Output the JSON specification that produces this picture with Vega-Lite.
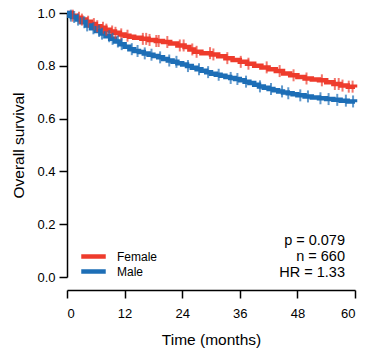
{
  "$schema": "https://vega.github.io/schema/vega-lite/v6.json",
  "width": 288,
  "height": 264,
  "autosize": "none",
  "padding": {"left": 67, "top": 13, "right": 12, "bottom": 81},
  "datasets": {
    "km": [
      {"group":"Female","time":0,"surv":1.0},{"group":"Female","time":1,"surv":0.99},{"group":"Female","time":2,"surv":0.982},{"group":"Female","time":3,"surv":0.975},{"group":"Female","time":4,"surv":0.967},{"group":"Female","time":5,"surv":0.958},{"group":"Female","time":6,"surv":0.95},{"group":"Female","time":7,"surv":0.944},{"group":"Female","time":8,"surv":0.937},{"group":"Female","time":9,"surv":0.93},{"group":"Female","time":10,"surv":0.925},{"group":"Female","time":11,"surv":0.919},{"group":"Female","time":12,"surv":0.914},{"group":"Female","time":13,"surv":0.91},{"group":"Female","time":14,"surv":0.906},{"group":"Female","time":15.5,"surv":0.902},{"group":"Female","time":17,"surv":0.898},{"group":"Female","time":18.5,"surv":0.894},{"group":"Female","time":20,"surv":0.89},{"group":"Female","time":21.5,"surv":0.884},{"group":"Female","time":23,"surv":0.877},{"group":"Female","time":24.5,"surv":0.871},{"group":"Female","time":25.5,"surv":0.862},{"group":"Female","time":26.5,"surv":0.853},{"group":"Female","time":28,"surv":0.848},{"group":"Female","time":30,"surv":0.843},{"group":"Female","time":31.5,"surv":0.836},{"group":"Female","time":33,"surv":0.829},{"group":"Female","time":34.5,"surv":0.822},{"group":"Female","time":36,"surv":0.815},{"group":"Female","time":37.5,"surv":0.808},{"group":"Female","time":39,"surv":0.8},{"group":"Female","time":40.5,"surv":0.794},{"group":"Female","time":42,"surv":0.787},{"group":"Female","time":43.5,"surv":0.78},{"group":"Female","time":45,"surv":0.771},{"group":"Female","time":46.5,"surv":0.764},{"group":"Female","time":48,"surv":0.758},{"group":"Female","time":49.5,"surv":0.752},{"group":"Female","time":51,"surv":0.748},{"group":"Female","time":52.5,"surv":0.745},{"group":"Female","time":54,"surv":0.738},{"group":"Female","time":55.5,"surv":0.731},{"group":"Female","time":57,"surv":0.725},{"group":"Female","time":58.5,"surv":0.721},{"group":"Female","time":60,"surv":0.718},
      {"group":"Male","time":0,"surv":1.0},{"group":"Male","time":0.5,"surv":0.99},{"group":"Male","time":1,"surv":0.985},{"group":"Male","time":2,"surv":0.975},{"group":"Male","time":3,"surv":0.965},{"group":"Male","time":4,"surv":0.953},{"group":"Male","time":5,"surv":0.942},{"group":"Male","time":6,"surv":0.932},{"group":"Male","time":7,"surv":0.922},{"group":"Male","time":8,"surv":0.912},{"group":"Male","time":9,"surv":0.902},{"group":"Male","time":10,"surv":0.892},{"group":"Male","time":11,"surv":0.882},{"group":"Male","time":12,"surv":0.872},{"group":"Male","time":13,"surv":0.863},{"group":"Male","time":14,"surv":0.856},{"group":"Male","time":15,"surv":0.852},{"group":"Male","time":16,"surv":0.847},{"group":"Male","time":17,"surv":0.842},{"group":"Male","time":18,"surv":0.837},{"group":"Male","time":19,"surv":0.832},{"group":"Male","time":20,"surv":0.826},{"group":"Male","time":21,"surv":0.82},{"group":"Male","time":22,"surv":0.815},{"group":"Male","time":23,"surv":0.81},{"group":"Male","time":24,"surv":0.805},{"group":"Male","time":25,"surv":0.799},{"group":"Male","time":26,"surv":0.793},{"group":"Male","time":27,"surv":0.787},{"group":"Male","time":28,"surv":0.781},{"group":"Male","time":29,"surv":0.776},{"group":"Male","time":30,"surv":0.77},{"group":"Male","time":31,"surv":0.766},{"group":"Male","time":32,"surv":0.762},{"group":"Male","time":33,"surv":0.758},{"group":"Male","time":34,"surv":0.754},{"group":"Male","time":35,"surv":0.75},{"group":"Male","time":36,"surv":0.745},{"group":"Male","time":37,"surv":0.74},{"group":"Male","time":38,"surv":0.735},{"group":"Male","time":39,"surv":0.728},{"group":"Male","time":40,"surv":0.722},{"group":"Male","time":41,"surv":0.717},{"group":"Male","time":42,"surv":0.712},{"group":"Male","time":43,"surv":0.707},{"group":"Male","time":44,"surv":0.703},{"group":"Male","time":45,"surv":0.699},{"group":"Male","time":46,"surv":0.696},{"group":"Male","time":47,"surv":0.692},{"group":"Male","time":48,"surv":0.688},{"group":"Male","time":49.5,"surv":0.684},{"group":"Male","time":51,"surv":0.68},{"group":"Male","time":52.5,"surv":0.677},{"group":"Male","time":54,"surv":0.674},{"group":"Male","time":55.5,"surv":0.671},{"group":"Male","time":57,"surv":0.668},{"group":"Male","time":58.5,"surv":0.665},{"group":"Male","time":60,"surv":0.662}
    ],
    "cens": [
      {"group":"Female","time":1.2,"surv":0.99},{"group":"Female","time":2.5,"surv":0.982},{"group":"Female","time":3.1,"surv":0.975},{"group":"Female","time":4.4,"surv":0.967},{"group":"Female","time":5.6,"surv":0.958},{"group":"Female","time":6.3,"surv":0.95},{"group":"Female","time":7.5,"surv":0.944},{"group":"Female","time":8.2,"surv":0.937},{"group":"Female","time":9.4,"surv":0.93},{"group":"Female","time":10.1,"surv":0.925},{"group":"Female","time":11.3,"surv":0.919},{"group":"Female","time":12.6,"surv":0.914},{"group":"Female","time":15.8,"surv":0.902},{"group":"Female","time":16.5,"surv":0.902},{"group":"Female","time":17.2,"surv":0.898},{"group":"Female","time":18.6,"surv":0.894},{"group":"Female","time":19.1,"surv":0.894},{"group":"Female","time":20.9,"surv":0.89},{"group":"Female","time":23.5,"surv":0.877},{"group":"Female","time":24.3,"surv":0.877},{"group":"Female","time":26.1,"surv":0.862},{"group":"Female","time":27.0,"surv":0.853},{"group":"Female","time":29.8,"surv":0.848},{"group":"Female","time":30.5,"surv":0.843},{"group":"Female","time":33.4,"surv":0.829},{"group":"Female","time":36.2,"surv":0.815},{"group":"Female","time":37.8,"surv":0.808},{"group":"Female","time":41.6,"surv":0.794},{"group":"Female","time":44.3,"surv":0.78},{"group":"Female","time":47.2,"surv":0.764},{"group":"Female","time":49.9,"surv":0.752},{"group":"Female","time":53.1,"surv":0.745},{"group":"Female","time":55.8,"surv":0.731},{"group":"Female","time":56.6,"surv":0.731},{"group":"Female","time":57.4,"surv":0.725},{"group":"Female","time":58.7,"surv":0.721},{"group":"Female","time":59.5,"surv":0.721},
      {"group":"Male","time":0.8,"surv":0.99},{"group":"Male","time":1.5,"surv":0.985},{"group":"Male","time":2.3,"surv":0.975},{"group":"Male","time":3.6,"surv":0.965},{"group":"Male","time":4.2,"surv":0.953},{"group":"Male","time":5.5,"surv":0.942},{"group":"Male","time":6.7,"surv":0.932},{"group":"Male","time":7.3,"surv":0.922},{"group":"Male","time":8.8,"surv":0.912},{"group":"Male","time":9.5,"surv":0.902},{"group":"Male","time":10.6,"surv":0.892},{"group":"Male","time":11.4,"surv":0.882},{"group":"Male","time":13.5,"surv":0.863},{"group":"Male","time":14.7,"surv":0.856},{"group":"Male","time":16.2,"surv":0.847},{"group":"Male","time":17.6,"surv":0.842},{"group":"Male","time":19.4,"surv":0.832},{"group":"Male","time":21.3,"surv":0.82},{"group":"Male","time":22.8,"surv":0.815},{"group":"Male","time":25.2,"surv":0.799},{"group":"Male","time":27.5,"surv":0.787},{"group":"Male","time":29.4,"surv":0.776},{"group":"Male","time":31.6,"surv":0.766},{"group":"Male","time":34.1,"surv":0.754},{"group":"Male","time":35.5,"surv":0.75},{"group":"Male","time":37.3,"surv":0.74},{"group":"Male","time":40.2,"surv":0.722},{"group":"Male","time":42.5,"surv":0.712},{"group":"Male","time":44.8,"surv":0.703},{"group":"Male","time":46.1,"surv":0.696},{"group":"Male","time":48.6,"surv":0.688},{"group":"Male","time":50.2,"surv":0.684},{"group":"Male","time":52.8,"surv":0.677},{"group":"Male","time":54.5,"surv":0.674},{"group":"Male","time":56.3,"surv":0.671},{"group":"Male","time":58.1,"surv":0.668},{"group":"Male","time":59.6,"surv":0.665}
    ],
    "stats": [
      {"label":"p = 0.079","time":60,"surv":0.136},
      {"label":"n = 660","time":60,"surv":0.076},
      {"label":"HR = 1.33","time":60,"surv":0.016}
    ]
  },
  "config": {
    "view": {"stroke": null},
    "font": "Liberation Sans",
    "axis": {"grid": false, "domainColor": "black", "tickColor": "black", "labelColor": "black", "titleColor": "black", "domainWidth": 1.5, "tickWidth": 1.5, "tickSize": 8, "labelFontSize": 13, "titleFontSize": 15.5, "titleFontWeight": "normal", "labelFont": "Liberation Sans", "titleFont": "Liberation Sans"},
    "legend": {"symbolType": "stroke", "symbolStrokeWidth": 4.5, "symbolSize": 600, "labelFontSize": 12, "labelColor": "black", "labelFont": "Liberation Sans", "labelOffset": 9, "rowPadding": 0, "clipHeight": 15}
  },
  "layer": [
    {
      "data": {"name": "km"},
      "mark": {"type": "line", "interpolate": "step-after", "strokeWidth": 4.5},
      "encoding": {
        "x": {"field": "time", "type": "quantitative", "scale": {"domain": [0, 60], "nice": false},
          "axis": {"values": [0, 12, 24, 36, 48, 60], "offset": 13, "title": "Time (months)", "titlePadding": 12, "labelPadding": 9}},
        "y": {"field": "surv", "type": "quantitative", "scale": {"domain": [0, 1], "nice": false},
          "axis": {"values": [0, 0.2, 0.4, 0.6, 0.8, 1.0], "format": ".1f", "title": "Overall survival", "titlePadding": 10, "labelPadding": 4}},
        "color": {"field": "group", "type": "nominal", "scale": {"domain": ["Female", "Male"], "range": ["#EE3B2C", "#1D6EB6"]},
          "legend": {"title": null, "orient": "none", "legendX": 12, "legendY": 236}}
      }
    },
    {
      "data": {"name": "cens"},
      "mark": {"type": "tick", "orient": "vertical", "size": 12, "thickness": 2},
      "encoding": {
        "x": {"field": "time", "type": "quantitative"},
        "y": {"field": "surv", "type": "quantitative"},
        "color": {"field": "group", "type": "nominal", "legend": null}
      }
    },
    {
      "data": {"name": "stats"},
      "mark": {"type": "text", "align": "right", "baseline": "middle", "fontSize": 14.5, "font": "Liberation Sans", "color": "black", "dx": -10},
      "encoding": {
        "x": {"field": "time", "type": "quantitative"},
        "y": {"field": "surv", "type": "quantitative"},
        "text": {"field": "label", "type": "nominal"}
      }
    }
  ]
}
